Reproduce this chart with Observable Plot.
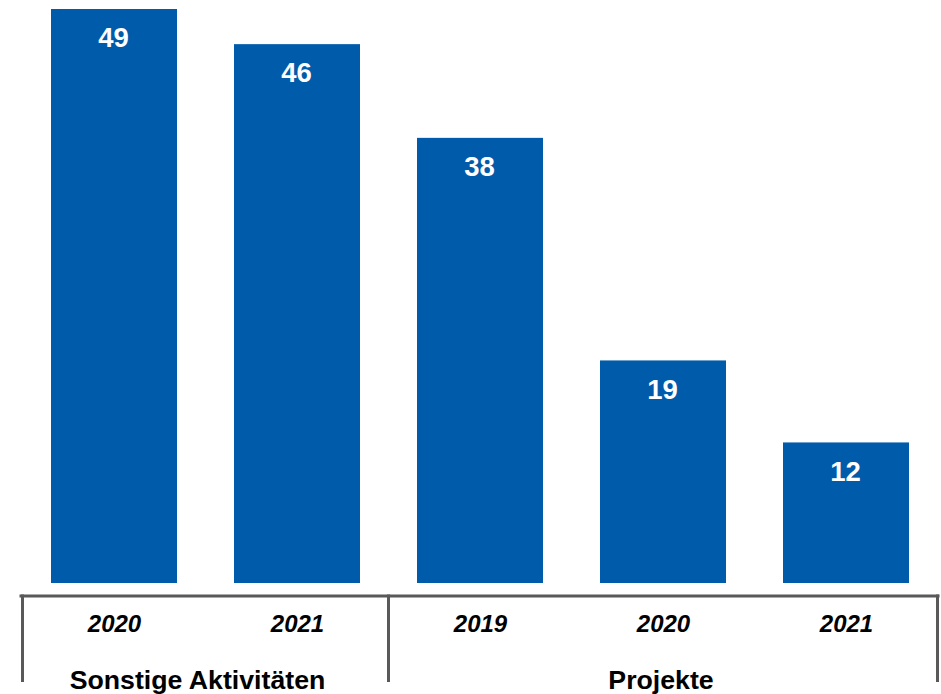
<!DOCTYPE html>
<html><head><meta charset="utf-8">
<script src="https://cdn.jsdelivr.net/npm/d3@7"></script>
<script src="https://cdn.jsdelivr.net/npm/@observablehq/plot@0.6"></script>
<style>body{margin:0;background:#fff;}</style>
</head><body><div id="chart"></div>
<script>
const groups = ["Sonstige Aktivitäten","Sonstige Aktivitäten","Projekte","Projekte","Projekte"];
const years = ["2020","2021","2019","2020","2021"];
const values = [49, 46, 38, 19, 12];
const groupNames = ["Sonstige Aktivitäten","Projekte"];

const data = values.map((v, i) => ({key: groups[i] + " " + years[i], group: groups[i], year: years[i], value: v}));
const keys = data.map(d => d.key);

const font = "'Liberation Sans', Arial, Helvetica, sans-serif";
const blue = "#005BAA";
const axisColor = "#595959";

function decor(index, scales, values, dims) {
  const x = scales.x, y = scales.y;
  const step = typeof x.step === "function" ? x.step() : x.step;
  const bw = typeof x.bandwidth === "function" ? x.bandwidth() : x.bandwidth;
  const y0 = y(0) + 13;
  const yEnd = dims.height - 12;
  const g = d3.create("svg:g");
  const left = dims.marginLeft, right = dims.width - dims.marginRight;
  g.append("line").attr("x1", left - 1.5).attr("x2", right + 1.5).attr("y1", y0).attr("y2", y0)
    .attr("stroke", axisColor).attr("stroke-width", 3);
  const bounds = [];
  groupNames.forEach((gn, gi) => {
    const members = data.filter(d => d.group === gn);
    const first = x(members[0].key), last = x(members[members.length - 1].key);
    if (gi === 0) bounds.push(first + bw / 2 - step / 2);
    bounds.push(last + bw / 2 + step / 2);
    g.append("text").attr("x", (first + last) / 2 + bw / 2 - (gi === 0 ? 8 : 2)).attr("y", dims.height - 5)
      .attr("text-anchor", "middle").attr("font-family", font).attr("font-weight", "bold")
      .attr("font-size", 26.7).attr("fill", "#000").text(gn);
  });
  bounds.forEach(bx => {
    g.append("line").attr("x1", bx).attr("x2", bx).attr("y1", y0 - 1.5).attr("y2", yEnd)
      .attr("stroke", axisColor).attr("stroke-width", 3);
  });
  return g.node();
}

const chart = Plot.plot({
  width: 941,
  height: 694,
  marginLeft: 21,
  marginRight: 3,
  marginTop: 9,
  marginBottom: 111,
  style: {background: "#fff", fontFamily: font, overflow: "visible"},
  x: {domain: keys, paddingInner: 0.314, paddingOuter: 0.15, axis: null},
  y: {domain: [0, 49], axis: null},
  marks: [
    Plot.barY(data, {x: "key", y: "value", fill: blue}),
    Plot.text(data, {x: "key", y: "value", text: d => String(d.value), dy: 29, dx: -1, fill: "#fff",
      fontSize: 27.5, fontWeight: "bold", fontFamily: font}),
    Plot.text(data, {x: "key", y: d => 0, text: "year", dy: 41, fill: "#000",
      fontSize: 24, fontWeight: "bold", fontStyle: "italic", fontFamily: font}),
    decor
  ]
});
document.getElementById("chart").appendChild(chart);
</script>
</body></html>
